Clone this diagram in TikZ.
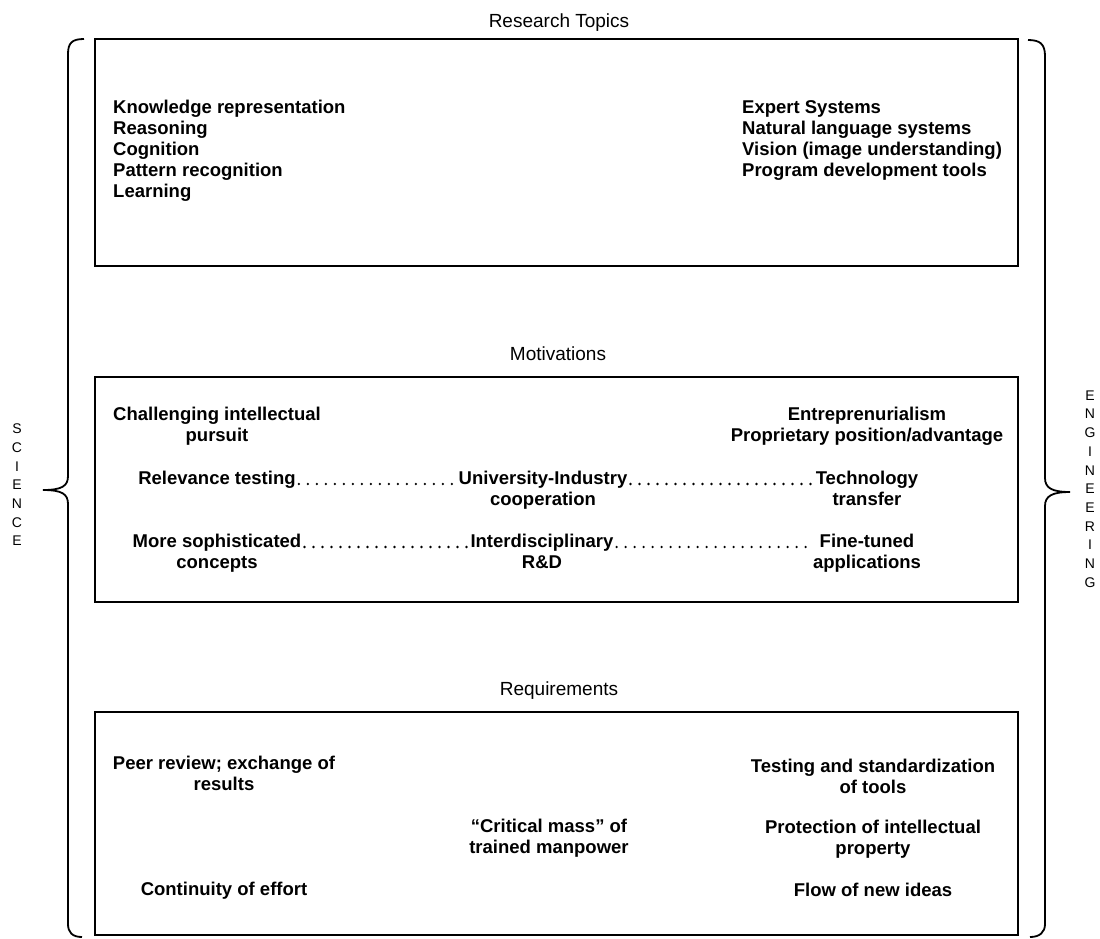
\documentclass[tikz,border=0pt]{standalone}
\usepackage{fontspec}
\setmainfont{Liberation Sans}
\begin{document}
\begin{tikzpicture}
    [ x=1pt, y=-1pt
    , box/.style={draw, line width=2.6pt}
    , brace/.style={draw, line width=1.8pt}
    , title/.style={anchor=base, font=\fontsize{19}{21}\selectfont}
    , item/.style={anchor=base, align=center, inner sep=3pt, font=\fontsize{18.5}{21.5}\selectfont\bfseries}
    , column/.style={anchor=base west, align=left, inner sep=0pt, font=\fontsize{18.5}{21}\selectfont\bfseries}
    , letters/.style={align=center, inner sep=0pt, font=\fontsize{14}{18.7}\selectfont}
    , dotline/.style={line width=2.6pt, line cap=round, dash pattern=on 0pt off 9pt, yshift=1.3pt}
    ]

    \useasboundingbox (0,0) rectangle (1100,938);

    % the three boxes
    \draw [box] (95,39)  rectangle (1018,266);
    \draw [box] (95,377) rectangle (1018,602);
    \draw [box] (95,712) rectangle (1018,935);

    \node [title] (tRes) at (559,27)  {Research Topics};
    \node [title] (tMot) at (558,360) {Motivations};
    \node [title] (tReq) at (559,695) {Requirements};

    % research topics (base = last line)
    \node [column] (know)   at (113,197) {Knowledge representation\\ Reasoning\\ Cognition\\ Pattern recognition\\ Learning};
    \node [column] (expert) at (742,176) {Expert Systems\\ Natural language systems\\ Vision (image understanding)\\ Program development tools};

    % motivations
    \node [item] (chal)  at (217,441.5) {Challenging intellectual\\ pursuit};
    \node [item] (entre) at (867,441.5) {Entreprenurialism\\ Proprietary position/advantage};
    \node [item] (rel)   at (217,484)   {Relevance testing};
    \node [item] (univ)  at (543,505.5) {University-Industry\\ cooperation};
    \node [item] (tech)  at (867,505.5) {Technology\\ transfer};
    \node [item] (soph)  at (217,568.5) {More sophisticated\\ concepts};
    \node [item] (inter) at (542,568.5) {Interdisciplinary\\ R\&D};
    \node [item] (fine)  at (867,568.5) {Fine-tuned\\ applications};

    \coordinate (row2) at (0,484);
    \coordinate (row3) at (0,547);
    \draw [dotline] (rel.base east)  -- (univ.west |- row2);
    \draw [dotline] (univ.east |- row2) -- (tech.west |- row2);
    \draw [dotline] (soph.east |- row3) -- (inter.west |- row3);
    \draw [dotline] (inter.east |- row3) -- (fine.west |- row3);

    % requirements
    \node [item] (peer) at (224,790.5) {Peer review; exchange of\\ results};
    \node [item] (test) at (873,793.5) {Testing and standardization\\ of tools};
    \node [item] (crit) at (549,853.5) {``Critical mass'' of\\ trained manpower};
    \node [item] (prot) at (873,854.5) {Protection of intellectual\\ property};
    \node [item] (cont) at (224,895)   {Continuity of effort};
    \node [item] (flow) at (873,896)   {Flow of new ideas};

    % braces
    \draw [brace] (84,39) .. controls (72,39) and (68,43) .. (68,54) -- (68,476)
        .. controls (68,486) and (62,490) .. (43,490)
        .. controls (62,490) and (68,494) .. (68,504) -- (68,924)
        .. controls (68,932) and (72,937) .. (82,937);
    \draw [brace] (1028,40) .. controls (1040,40) and (1045,44) .. (1045,56) -- (1045,478)
        .. controls (1045,488) and (1052,492) .. (1070,492)
        .. controls (1052,492) and (1045,496) .. (1045,506) -- (1045,924)
        .. controls (1045,932) and (1040,937) .. (1030,937);

    \node [letters] (science) at (17,485)   {S\\ C\\ I\\ E\\ N\\ C\\ E};
    \node [letters] (engin)   at (1090,489) {E\\ N\\ G\\ I\\ N\\ E\\ E\\ R\\ I\\ N\\ G};
\end{tikzpicture}
\end{document}
